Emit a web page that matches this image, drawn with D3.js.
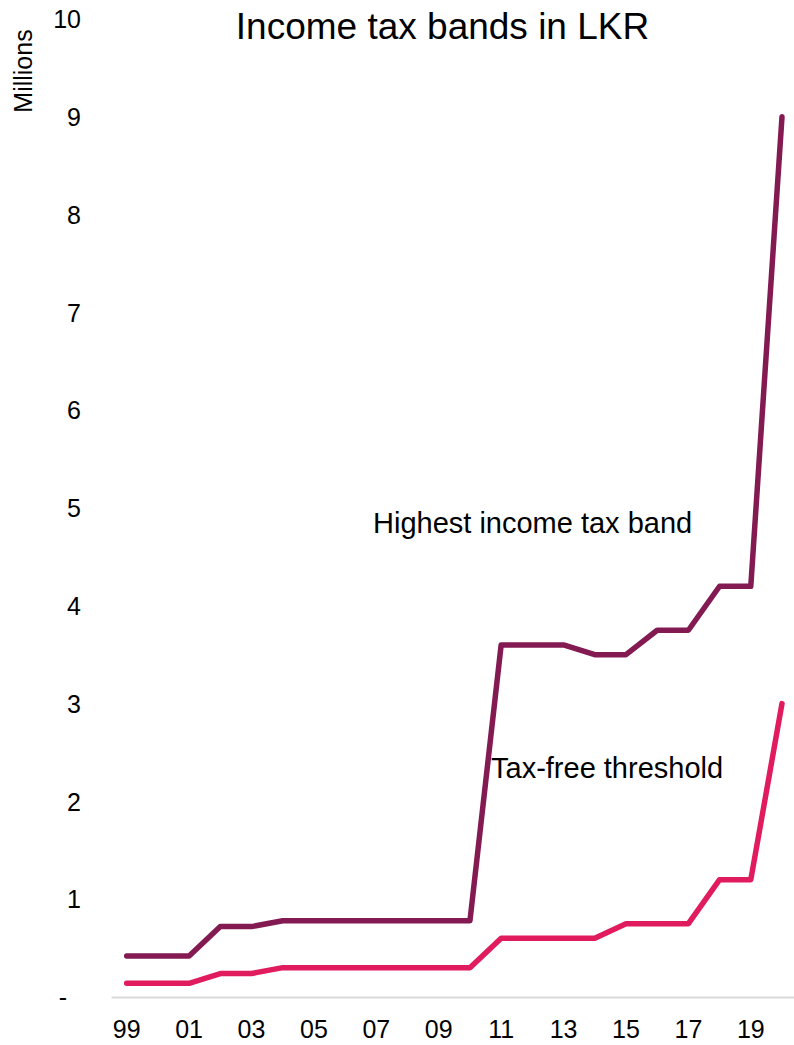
<!DOCTYPE html>
<html><head><meta charset="utf-8">
<script src="https://cdn.jsdelivr.net/npm/d3@7"></script>
<style>html,body{margin:0;padding:0;background:#fff}svg{display:block}text{font-family:"Liberation Sans",Arial,sans-serif;fill:#000}</style>
</head><body>
<svg id="c" width="794" height="1045"></svg>
<script>
const years = [1999,2000,2001,2002,2003,2004,2005,2006,2007,2008,2009,2010,2011,2012,2013,2014,2015,2016,2017,2018,2019,2020];
const highestBand = [0.42,0.42,0.42,0.72,0.72,0.78,0.78,0.78,0.78,0.78,0.78,0.78,3.6,3.6,3.6,3.5,3.5,3.75,3.75,4.2,4.2,9.0];
const taxFree = [0.14,0.14,0.14,0.24,0.24,0.30,0.30,0.30,0.30,0.30,0.30,0.30,0.60,0.60,0.60,0.60,0.75,0.75,0.75,1.2,1.2,3.0];
const yTicks = [0,1,2,3,4,5,6,7,8,9,10];
const seriesNames = ["Highest income tax band","Tax-free threshold"];
const title = "Income tax bands in LKR";
const yTitle = "Millions";

const svg = d3.select("#c");
const x = d3.scaleBand().domain(years).range([111.1, 797.6]).padding(0);
const y = d3.scaleLinear().domain([0,10]).range([997, 19]);
const cx = d => x(d) + x.bandwidth()/2;

// title
svg.append("text").attr("x", 442.5).attr("y", 39).attr("text-anchor","middle")
  .style("font-size","37px").text(title);

// y title
svg.append("text").attr("transform","translate(32,71) rotate(-90)").attr("text-anchor","middle")
  .style("font-size","25px").text(yTitle);

// y axis (labels only)
const yAxis = d3.axisLeft(y).tickValues(yTicks).tickSize(0).tickPadding(0)
  .tickFormat(d => d === 0 ? "-" : d3.format("d")(d));
const ya = svg.append("g").attr("transform","translate(81,0)").call(yAxis);
ya.select(".domain").remove();
ya.selectAll("text").style("font-size","25px").attr("font-family",null).attr("dy","0.35em");
ya.selectAll(".tick").filter(d => d === 0).select("text").attr("x", -14);

// x axis
const xAxis = d3.axisBottom(x).tickSize(0).tickPadding(0)
  .tickValues(years.filter(v => v % 2 === 1))
  .tickFormat(d => String(d).slice(2));
const xa = svg.append("g").attr("transform","translate(0,997)").call(xAxis);
xa.select(".domain").attr("stroke","#d9d9d9").attr("stroke-width",2);
xa.selectAll("text").style("font-size","25px").attr("font-family",null).attr("y",41).attr("dy",0);

// lines
const line = d3.line().x((d,i) => cx(years[i])).y(d => y(d));
svg.append("path").datum(taxFree).attr("d", line).attr("fill","none")
  .attr("stroke","#E01B5E").attr("stroke-width",5.5).attr("stroke-linecap","round").attr("stroke-linejoin","round");
svg.append("path").datum(highestBand).attr("d", line).attr("fill","none")
  .attr("stroke","#841A52").attr("stroke-width",5.5).attr("stroke-linecap","round").attr("stroke-linejoin","round");

// series labels
svg.append("text").attr("x", 373).attr("y", 533).style("font-size","29px").text(seriesNames[0]);
svg.append("text").attr("x", 491).attr("y", 778).style("font-size","29px").text(seriesNames[1]);
</script>
</body></html>
